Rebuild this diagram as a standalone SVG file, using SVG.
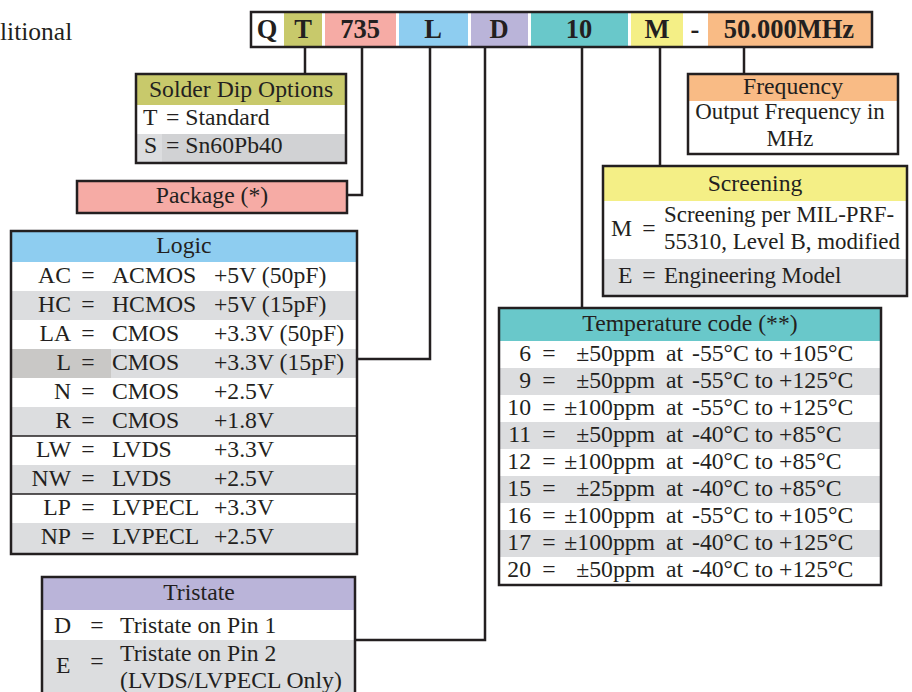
<svg xmlns="http://www.w3.org/2000/svg" width="912" height="692" viewBox="0 0 912 692">
<style>
text{font-family:"Liberation Serif","Times New Roman",serif;fill:#231f20;font-size:23.7px}
.b{font-weight:bold;font-size:26.5px}
.c{text-anchor:middle}
.r{text-anchor:end}
.s{font-size:22.9px}
.box{fill:none;stroke:#231f20;stroke-width:2.5}
.g{fill:#dcdddf}
.w{fill:#ffffff}
.ln{fill:none;stroke:#231f20;stroke-width:2.5}
.dv{stroke:#231f20;stroke-width:1.5}
</style>
<rect width="912" height="692" fill="#ffffff"/>
<text x="0" y="40" style="font-size:25.5px">litional</text>

<g id="partnumber">
<rect x="251" y="12" width="621" height="35" fill="#ffffff"/>
<rect x="284" y="12" width="38" height="35" fill="#c8c96b"/>
<rect x="325" y="12" width="71" height="35" fill="#f6aba5"/>
<rect x="399" y="12" width="69" height="35" fill="#8ecdf0"/>
<rect x="471" y="12" width="57" height="35" fill="#bab4d9"/>
<rect x="531" y="12" width="97" height="35" fill="#69c8ca"/>
<rect x="631" y="12" width="52" height="35" fill="#f4ef86"/>
<rect x="708" y="12" width="164" height="35" fill="#f9bb85"/>
<rect x="251" y="12" width="621" height="35" class="box"/>
<text class="b c" x="267" y="38">Q</text>
<text class="b c" x="303" y="38">T</text>
<text class="b c" x="360" y="38">735</text>
<text class="b c" x="433" y="38">L</text>
<text class="b c" x="499" y="38">D</text>
<text class="b c" x="579" y="38">10</text>
<text class="b c" x="657" y="38">M</text>
<text class="b c" x="695" y="38">-</text>
<text class="b c" x="789" y="38">50.000MHz</text>
</g>

<g id="connectors">
<path class="ln" d="M305 47V74"/>
<path class="ln" d="M362 47V195H347"/>
<path class="ln" d="M430 47V359H357"/>
<path class="ln" d="M485 47V640H355"/>
<path class="ln" d="M582 47V308"/>
<path class="ln" d="M660 47V166"/>
<path class="ln" d="M744 47V74"/>
</g>

<g id="solder">
<rect x="136" y="74" width="210" height="31" fill="#c8c96b"/>
<rect x="136" y="105" width="210" height="29" class="w"/>
<rect x="136" y="134" width="210" height="29" fill="#d1d2d4"/>
<rect x="136" y="134" width="26" height="29" fill="#dcdddf"/>
<rect x="136" y="74" width="210" height="89" class="box"/>
<text class="c" x="241" y="97">Solder Dip Options</text>
<text x="143" y="125">T</text><text x="166" y="125">= Standard</text>
<text x="144" y="153">S</text><text x="166" y="153">= Sn60Pb40</text>
</g>

<g id="package">
<rect x="77" y="181" width="270" height="32" class="box" style="fill:#f6aba5"/>
<text class="c" x="212" y="203">Package (*)</text>
</g>

<g id="logic">
<rect x="11" y="231" width="346" height="31" fill="#8ecdf0"/>
<rect x="11" y="262" width="346" height="292" class="w"/>
<rect x="11" y="291" width="346" height="29" class="g"/>
<rect x="11" y="349" width="346" height="29" class="g"/>
<rect x="11" y="349" width="100" height="29" fill="#c9c8c6"/>
<rect x="11" y="407" width="346" height="29" class="g"/>
<rect x="11" y="465" width="346" height="29" class="g"/>
<rect x="11" y="523" width="346" height="31" class="g"/>
<line class="dv" x1="11" y1="436" x2="357" y2="436"/>
<line class="dv" x1="11" y1="494" x2="357" y2="494"/>
<rect x="11" y="231" width="346" height="323" class="box"/>
<text class="c" x="184" y="253">Logic</text>
<g>
<text class="r" x="71" y="283">AC</text><text class="c" x="88" y="283">=</text><text x="112" y="283">ACMOS</text><text x="214" y="283">+5V (50pF)</text>
<text class="r" x="71" y="312">HC</text><text class="c" x="88" y="312">=</text><text x="112" y="312">HCMOS</text><text x="214" y="312">+5V (15pF)</text>
<text class="r" x="71" y="341">LA</text><text class="c" x="88" y="341">=</text><text x="112" y="341">CMOS</text><text x="214" y="341">+3.3V (50pF)</text>
<text class="r" x="71" y="370">L</text><text class="c" x="88" y="370">=</text><text x="112" y="370">CMOS</text><text x="214" y="370">+3.3V (15pF)</text>
<text class="r" x="71" y="399">N</text><text class="c" x="88" y="399">=</text><text x="112" y="399">CMOS</text><text x="214" y="399">+2.5V</text>
<text class="r" x="71" y="428">R</text><text class="c" x="88" y="428">=</text><text x="112" y="428">CMOS</text><text x="214" y="428">+1.8V</text>
<text class="r" x="71" y="457">LW</text><text class="c" x="88" y="457">=</text><text x="112" y="457">LVDS</text><text x="214" y="457">+3.3V</text>
<text class="r" x="71" y="486">NW</text><text class="c" x="88" y="486">=</text><text x="112" y="486">LVDS</text><text x="214" y="486">+2.5V</text>
<text class="r" x="71" y="515">LP</text><text class="c" x="88" y="515">=</text><text x="112" y="515">LVPECL</text><text x="214" y="515">+3.3V</text>
<text class="r" x="71" y="544">NP</text><text class="c" x="88" y="544">=</text><text x="112" y="544">LVPECL</text><text x="214" y="544">+2.5V</text>
</g>
</g>

<g id="frequency">
<rect x="688" y="74" width="210" height="27" fill="#f9bb85"/>
<rect x="688" y="101" width="210" height="53" class="w"/>
<rect x="688" y="74" width="210" height="80" class="box"/>
<text class="c" x="793" y="94">Frequency</text>
<text class="c s" x="790" y="119">Output Frequency in</text>
<text class="c s" x="790" y="146">MHz</text>
</g>

<g id="screening">
<rect x="603" y="166" width="304" height="35" fill="#f4ef86"/>
<rect x="603" y="201" width="304" height="58" class="w"/>
<rect x="603" y="259" width="304" height="37" class="g"/>
<rect x="603" y="166" width="304" height="130" class="box"/>
<text class="c" x="755" y="191">Screening</text>
<text x="611" y="236">M</text><text class="c" x="649" y="236">=</text>
<text class="s" x="664" y="222">Screening per MIL-PRF-</text>
<text class="s" x="664" y="249">55310, Level B, modified</text>
<text x="618" y="283">E</text><text class="c" x="649" y="283">=</text>
<text class="s" x="664" y="283">Engineering Model</text>
</g>

<g id="temperature">
<rect x="499" y="308" width="382" height="33" fill="#69c8ca"/>
<rect x="499" y="341" width="382" height="244" class="w"/>
<rect x="499" y="368" width="382" height="27" class="g"/>
<rect x="499" y="422" width="382" height="27" class="g"/>
<rect x="499" y="476" width="382" height="27" class="g"/>
<rect x="499" y="530" width="382" height="27" class="g"/>
<rect x="499" y="308" width="382" height="277" class="box"/>
<text class="c" x="690" y="331">Temperature code (**)</text>
<text class="r" x="531" y="361">6</text><text class="c" x="549" y="361">=</text><text class="r" x="655" y="361">±50ppm</text><text x="666" y="361">at</text><text x="692" y="361">-55°C to +105°C</text>
<text class="r" x="531" y="388">9</text><text class="c" x="549" y="388">=</text><text class="r" x="655" y="388">±50ppm</text><text x="666" y="388">at</text><text x="692" y="388">-55°C to +125°C</text>
<text class="r" x="531" y="415">10</text><text class="c" x="549" y="415">=</text><text class="r" x="655" y="415">±100ppm</text><text x="666" y="415">at</text><text x="692" y="415">-55°C to +125°C</text>
<text class="r" x="531" y="442">11</text><text class="c" x="549" y="442">=</text><text class="r" x="655" y="442">±50ppm</text><text x="666" y="442">at</text><text x="692" y="442">-40°C to +85°C</text>
<text class="r" x="531" y="469">12</text><text class="c" x="549" y="469">=</text><text class="r" x="655" y="469">±100ppm</text><text x="666" y="469">at</text><text x="692" y="469">-40°C to +85°C</text>
<text class="r" x="531" y="496">15</text><text class="c" x="549" y="496">=</text><text class="r" x="655" y="496">±25ppm</text><text x="666" y="496">at</text><text x="692" y="496">-40°C to +85°C</text>
<text class="r" x="531" y="523">16</text><text class="c" x="549" y="523">=</text><text class="r" x="655" y="523">±100ppm</text><text x="666" y="523">at</text><text x="692" y="523">-55°C to +105°C</text>
<text class="r" x="531" y="550">17</text><text class="c" x="549" y="550">=</text><text class="r" x="655" y="550">±100ppm</text><text x="666" y="550">at</text><text x="692" y="550">-40°C to +125°C</text>
<text class="r" x="531" y="577">20</text><text class="c" x="549" y="577">=</text><text class="r" x="655" y="577">±50ppm</text><text x="666" y="577">at</text><text x="692" y="577">-40°C to +125°C</text>
</g>

<g id="tristate">
<rect x="42" y="577" width="313" height="33" fill="#bab4d9"/>
<rect x="42" y="610" width="313" height="30" class="w"/>
<rect x="42" y="640" width="313" height="62" class="g"/>
<rect x="42" y="577" width="313" height="125" class="box"/>
<text class="c" x="199" y="600">Tristate</text>
<text x="54" y="633">D</text><text class="c" x="97" y="633">=</text><text x="120" y="633">Tristate on Pin 1</text>
<text x="56" y="673">E</text><text class="c" x="97" y="669">=</text>
<text x="120" y="661">Tristate on Pin 2</text>
<text x="120" y="688">(LVDS/LVPECL Only)</text>
</g>
</svg>
